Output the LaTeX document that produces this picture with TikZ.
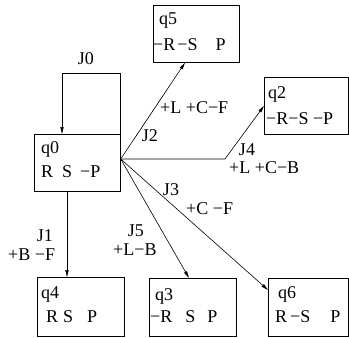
\documentclass[tikz,border=0pt]{standalone}
\usepackage{fontspec}
\setmainfont{Liberation Serif}
\usetikzlibrary{arrows.meta,calc}
\begin{document}
\begin{tikzpicture}[x=1pt,y=-1pt,
  box/.style={draw,line width=0.7pt,inner sep=0pt,anchor=north west},
  txt/.style={font=\fontsize{18}{20}\selectfont,inner sep=0pt,anchor=base west},
  lbl/.style={font=\fontsize{18}{20}\selectfont,inner sep=0pt},
  arr/.style={line width=0.6pt,-{Triangle[length=7pt,width=3.2pt]}},
  ln/.style={line width=0.6pt}]
\useasboundingbox (0,0) rectangle (349,338);
% boxes
\node[box,minimum width=86pt,minimum height=57pt] (q0) at (34,134) {};
\node[box,minimum width=86pt,minimum height=57pt] (q5) at (153,5) {};
\node[box,minimum width=84pt,minimum height=57pt] (q2) at (264,77) {};
\node[box,minimum width=87pt,minimum height=59pt] (q4) at (37,277) {};
\node[box,minimum width=87pt,minimum height=58pt] (q3) at (149,278) {};
\node[box,minimum width=80pt,minimum height=58pt] (q6) at (268,278) {};
% box texts
\node[txt] (q0a) at (41,153) {q0};
\node[txt] (q0b) at (41,177) {R\hspace{9pt}S\hspace{8pt}−P};
\node[txt] (q5a) at (159,24) {q5};
\node[txt] (q5b) at (153,50) {−R\hspace{2pt}−S\hspace{18pt}P};
\node[txt] (q2a) at (268,98) {q2};
\node[txt] (q2b) at (266,124) {−R−S −P};
\node[txt] (q4a) at (41,298) {q4};
\node[txt] (q4b) at (46,322) {R\hspace{5pt}S\hspace{14pt}P};
\node[txt] (q3a) at (155,300) {q3};
\node[txt] (q3b) at (150,322) {−R\hspace{13pt}S\hspace{12pt}P};
\node[txt] (q6a) at (278,298) {q6};
\node[txt] (q6b) at (275,322) {R\hspace{3pt}−S\hspace{20pt}P};
% connector points
\coordinate (o) at ($(q0.north east)+(0,25)$);
\coordinate (l0) at ($(q0.north west)+(28,-61)$);
\coordinate (k4) at (225,159);
% connectors
\draw[arr] (q0.north east) |- (l0) -- ($(q0.north west)+(28,0)$);
\draw[arr] ($(q0.south west)+(33,0)$) -- ($(q4.north west)+(30,0)$);
\draw[arr] (o) -- ($(q5.south west)+(32,0)$);
\draw[arr] (o) -- (k4) -- (q2.west);
\draw[arr] (o) -- ($(q6.north west)+(0,12)$);
\draw[arr] (o) -- ($(q3.north west)+(40,0)$);
% labels
\node[lbl] (j0) at (86,59) {J0};
\node[lbl] (j2) at (150,136) {J2};
\node[lbl,anchor=west] (j2b) at (160,108) {+L +C−F};
\node[lbl] (j4) at (247,150) {J4};
\node[lbl,anchor=west] (j4b) at (229,168) {+L +C−B};
\node[lbl] (j3) at (171,190) {J3};
\node[lbl,anchor=west] (j3b) at (186,209) {+C −F};
\node[lbl] (j1) at (45,236) {J1};
\node[lbl,anchor=west] (j1b) at (8,255) {+B −F};
\node[lbl] (j5) at (136,231) {J5};
\node[lbl,anchor=west] (j5b) at (113,250) {+L−B};
\end{tikzpicture}
\end{document}
